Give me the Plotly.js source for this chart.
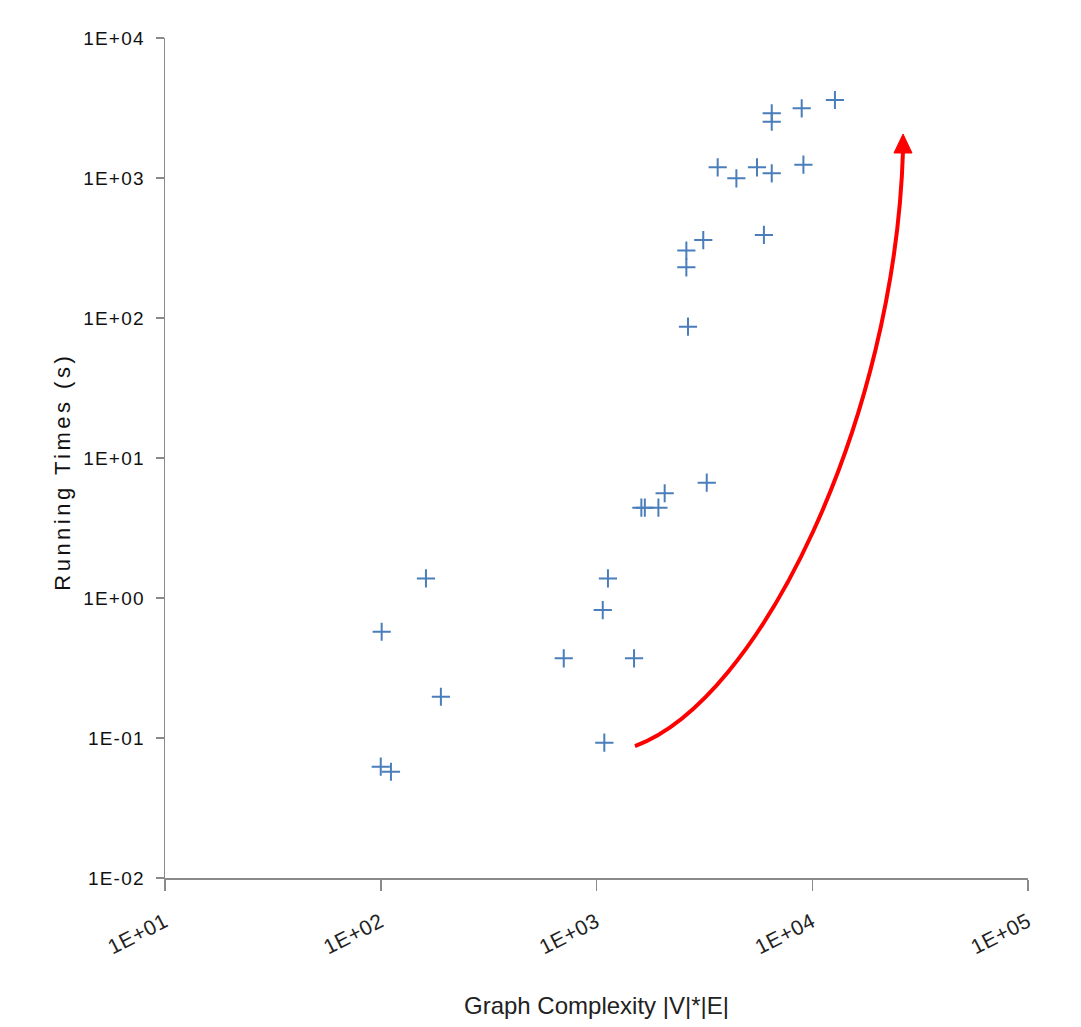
<!DOCTYPE html>
<html>
<head>
<meta charset="utf-8">
<script src="https://cdn.plot.ly/plotly-3.0.1.min.js"></script>
<style>
  html, body { margin: 0; padding: 0; background: #fff; }
  #chart { width: 1081px; height: 1027px; }
  .annotation-text { letter-spacing: 3.5px; }
  .ytick text { letter-spacing: 1.2px; }
  .xtick text { letter-spacing: 0.6px; }
</style>
</head>
<body>
<div id="chart"></div>
<script>
// Graph complexity |V|*|E| (x) and running time in seconds (y)
const complexity = [162, 101, 190, 100, 111.5, 1130, 1069, 705, 1493, 1087,
                    1614, 1675, 1936, 2070, 3243, 2655, 2609, 2609, 3125, 5970,
                    3645, 4450, 5545, 6490, 9100, 6490, 6490, 8935, 12740];
const runningTime = [1.38, 0.574, 0.197, 0.0624, 0.0574, 1.38, 0.82, 0.371, 0.371, 0.0926,
                     4.42, 4.42, 4.42, 5.6, 6.66, 86.7, 230, 303, 360, 392,
                     1192, 995, 1192, 1080, 1245, 2524, 2897, 3148, 3606];

const xTickVals = [1e1, 1e2, 1e3, 1e4, 1e5];
const xTickText = ['1E+01', '1E+02', '1E+03', '1E+04', '1E+05'];
const yTickVals = [1e-2, 1e-1, 1e0, 1e1, 1e2, 1e3, 1e4];
const yTickText = ['1E-02', '1E-01', '1E+00', '1E+01', '1E+02', '1E+03', '1E+04'];

const xTitle = 'Graph Complexity |V|*|E|';
const yTitle = 'Running Times (s)';

const axisColor = '#8a8a8a';
const markerColor = '#4A7EBB';
const sans = 'Liberation Sans, Arial, sans-serif';

const trace = {
  type: 'scatter',
  mode: 'markers',
  x: complexity,
  y: runningTime,
  marker: {
    symbol: 'cross-thin-open',
    size: 13,
    color: markerColor,
    line: { color: markerColor, width: 2 }
  },
  hoverinfo: 'x+y',
  showlegend: false
};

// Red trend arrow (decoration) in paper coordinates
const W = 863, H = 840, L = 165, T = 38;
function px(x) { return ((x - L) / W).toFixed(4); }
function py(y) { return ((T + H - y) / H).toFixed(4); }
const curve = [[635, 746], [760, 700], [895, 420], [903, 150]];
const headTip = [903, 134];
const headBase = [[894, 153], [912, 153]];

const layout = {
  width: 1081,
  height: 1027,
  paper_bgcolor: '#ffffff',
  plot_bgcolor: '#ffffff',
  margin: { l: 165, r: 53, t: 38, b: 149 },
  showlegend: false,
  font: { family: sans, color: '#000000' },
  xaxis: {
    type: 'log',
    range: [1, 5],
    tickmode: 'array',
    tickvals: xTickVals,
    ticktext: xTickText,
    tickangle: -27,
    tickfont: { family: sans, size: 21, color: '#222' },
    ticks: 'outside',
    ticklen: 11,
    tickwidth: 1.5,
    tickcolor: axisColor,
    ticklabelstandoff: 11,
    showline: true,
    linecolor: axisColor,
    linewidth: 1.5,
    showgrid: false,
    zeroline: false,
    title: { text: xTitle, font: { family: sans, size: 24, color: '#222' }, standoff: 40 }
  },
  yaxis: {
    type: 'log',
    range: [-2, 4],
    tickmode: 'array',
    tickvals: yTickVals,
    ticktext: yTickText,
    tickfont: { family: sans, size: 19, color: '#111' },
    ticks: 'outside',
    ticklen: 8,
    tickwidth: 1.5,
    tickcolor: axisColor,
    ticklabelstandoff: 7,
    showline: true,
    linecolor: axisColor,
    linewidth: 1.5,
    showgrid: false,
    zeroline: false
  },
  annotations: [
    {
      text: yTitle,
      xref: 'paper', yref: 'paper',
      x: -0.119, y: 0.484,
      xanchor: 'center', yanchor: 'middle',
      textangle: -90,
      showarrow: false,
      font: { family: sans, size: 22, color: '#111' }
    }
  ],
  shapes: [
    {
      type: 'path',
      xref: 'paper', yref: 'paper',
      path: 'M ' + px(curve[0][0]) + ',' + py(curve[0][1]) +
            ' C ' + px(curve[1][0]) + ',' + py(curve[1][1]) + ' ' +
            px(curve[2][0]) + ',' + py(curve[2][1]) + ' ' +
            px(curve[3][0]) + ',' + py(curve[3][1]),
      line: { color: '#ff0000', width: 4 },
      fillcolor: 'rgba(0,0,0,0)'
    },
    {
      type: 'path',
      xref: 'paper', yref: 'paper',
      path: 'M ' + px(headTip[0]) + ',' + py(headTip[1]) +
            ' L ' + px(headBase[0][0]) + ',' + py(headBase[0][1]) +
            ' L ' + px(headBase[1][0]) + ',' + py(headBase[1][1]) + ' Z',
      line: { color: '#ff0000', width: 1 },
      fillcolor: '#ff0000'
    }
  ]
};

Plotly.newPlot('chart', [trace], layout, { displayModeBar: false, staticPlot: true });
</script>
</body>
</html>
